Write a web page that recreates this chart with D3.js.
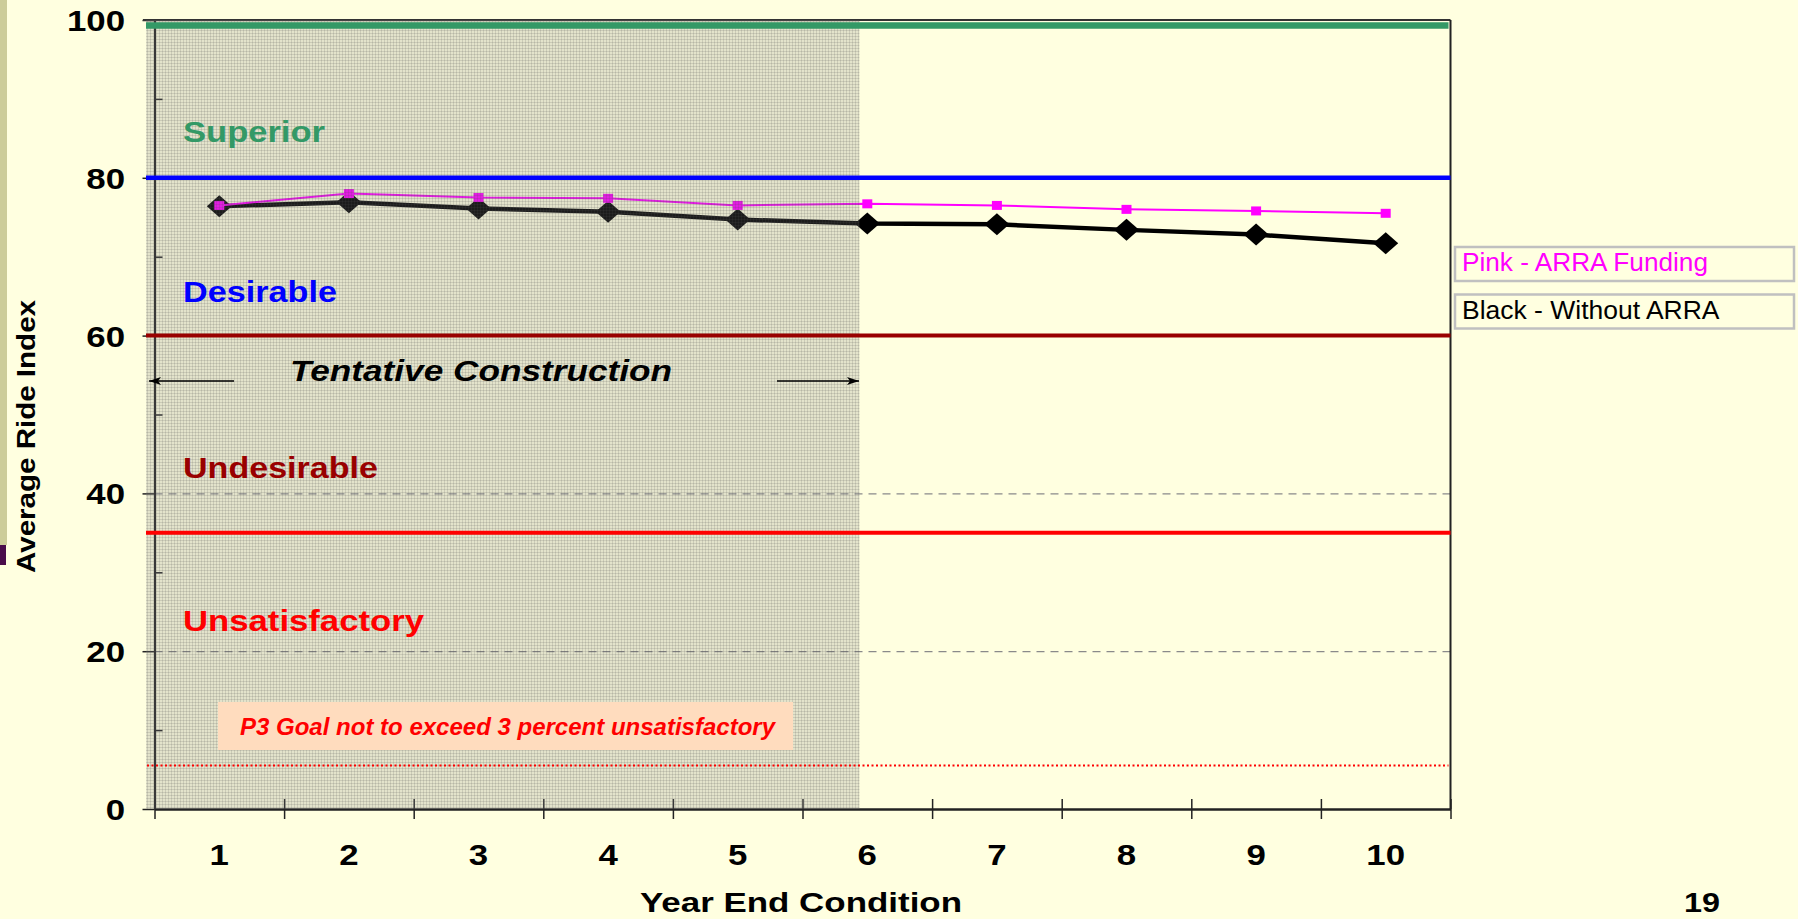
<!DOCTYPE html>
<html>
<head>
<meta charset="utf-8">
<script src="https://cdn.jsdelivr.net/npm/d3@7"></script>
<style>
  body { margin: 0; background: #ffffe0; }
  svg { display: block; font-family: "Liberation Sans", Arial, sans-serif; }
</style>
</head>
<body>
<div id="chart"></div>
<script>
// data
const years = [1, 2, 3, 4, 5, 6, 7, 8, 9, 10];
const withoutArra = [76.4, 76.9, 76.1, 75.7, 74.7, 74.2, 74.1, 73.4, 72.8, 71.7];
const withArra = [76.5, 78.0, 77.5, 77.4, 76.5, 76.7, 76.5, 76.0, 75.8, 75.5];
const yTicks = [0, 20, 40, 60, 80, 100];
const yMinorTicks = [10, 30, 50, 70, 90];
const zoneNames = ["Superior", "Desirable", "Undesirable", "Unsatisfactory"];
const zoneLimits = [99.3, 80, 60, 35];
const goalLevel = 5.5;
const legendLabels = ["Pink - ARRA Funding", "Black - Without ARRA"];

const width = 1798;
const height = 919;
const margin = { top: 20, right: 347.5, bottom: 110, left: 154.5 };
const zoneColors = ["#339966", "#0000ff", "#990000", "#ff0000"];
const zoneWidths = [6.5, 4.5, 4, 4];

const svg = d3.select("#chart")
    .append("svg")
    .attr("width", width)
    .attr("height", height);

const defs = svg.append("defs");
const hatch = defs.append("pattern")
    .attr("id", "hatch")
    .attr("width", 3)
    .attr("height", 3)
    .attr("patternUnits", "userSpaceOnUse");
hatch.append("rect").attr("width", 3).attr("height", 3)
    .attr("fill", "rgb(128,128,128)").attr("fill-opacity", 0.22);
hatch.append("rect").attr("width", 3).attr("height", 1)
    .attr("fill", "rgb(80,80,80)").attr("fill-opacity", 0.16);
hatch.append("rect").attr("width", 1).attr("height", 3)
    .attr("fill", "rgb(80,80,80)").attr("fill-opacity", 0.16);

defs.append("marker")
    .attr("id", "arrow")
    .attr("viewBox", "0 0 12 8")
    .attr("refX", 12).attr("refY", 4)
    .attr("markerWidth", 12).attr("markerHeight", 8)
    .attr("markerUnits", "userSpaceOnUse")
    .attr("orient", "auto")
    .append("path")
    .attr("d", "M0,0 L12,4 L0,8 L3,4 Z")
    .attr("fill", "#000");

// slide decoration on the left edge
svg.append("rect").attr("x", 0).attr("y", 0).attr("width", 7).attr("height", 545).attr("fill", "#cccc99");
svg.append("rect").attr("x", 0).attr("y", 545).attr("width", 6).attr("height", 20).attr("fill", "#4a0c4a");

const x = d3.scaleLinear()
    .domain([0, 10])
    .range([margin.left, width - margin.right]);

const xBand = d3.scaleBand()
    .domain(years)
    .range([margin.left, width - margin.right]);

const y = d3.scaleLinear()
    .domain([0, 100])
    .range([809, 20]);

const cx = d => xBand(d) + xBand.bandwidth() / 2;

// dashed gridlines
svg.append("g")
    .attr("transform", `translate(${margin.left},0)`)
    .call(d3.axisLeft(y).tickValues(yTicks.filter(v => v > 0 && v < 100))
        .tickSize(-(x(10) - x(0))).tickFormat(""))
    .call(g => g.select(".domain").remove())
    .selectAll("line")
    .attr("stroke", "#8a8a8a")
    .attr("stroke-width", 1.3)
    .attr("stroke-dasharray", "8,6");

// y axis
const yAxis = svg.append("g")
    .attr("transform", `translate(${margin.left},0)`)
    .call(d3.axisLeft(y).tickValues(yTicks).tickSize(12).tickSizeOuter(0).tickPadding(0));
yAxis.select(".domain").attr("stroke", "#222").attr("stroke-width", 2);
yAxis.selectAll("line").attr("stroke", "#222").attr("stroke-width", 1.5);
yAxis.selectAll("text")
    .attr("x", -29.5 / 1.2)
    .attr("dy", "0.36em")
    .attr("transform", "scale(1.2,1)")
    .attr("text-anchor", "end")
    .style("font-size", "29px")
    .style("font-weight", "bold")
    .style("fill", "#000");

svg.append("g")
    .attr("transform", `translate(${margin.left},0)`)
    .call(d3.axisLeft(y).tickValues(yMinorTicks).tickSize(-8).tickFormat(""))
    .call(g => g.select(".domain").remove())
    .selectAll("line").attr("stroke", "#222").attr("stroke-width", 1.5);

// x axis ticks (crossing)
const xAxis = svg.append("g")
    .attr("transform", `translate(0,${y(0)})`)
    .call(d3.axisBottom(x).tickValues(d3.range(0, 11)).tickSize(10).tickSizeOuter(0).tickFormat(""));
xAxis.select(".domain").attr("stroke", "#222").attr("stroke-width", 2.5);
xAxis.selectAll("line").attr("y1", -10).attr("stroke", "#222").attr("stroke-width", 1.5);

// x labels
const xLabels = svg.append("g")
    .attr("transform", `translate(0,${y(0)})`)
    .call(d3.axisBottom(xBand).tickSize(0));
xLabels.select(".domain").remove();
xLabels.selectAll("text")
    .attr("y", 56)
    .attr("dy", null)
    .attr("transform", "scale(1.2,1)")
    .attr("x", 0)
    .style("font-size", "29px")
    .style("font-weight", "bold")
    .style("fill", "#000");
xLabels.selectAll(".tick").each(function (d) {
    d3.select(this).attr("transform", `translate(${cx(d)},0)`);
});

// frame: top and right
svg.append("line")
    .attr("x1", 143).attr("x2", x(10))
    .attr("y1", y(100)).attr("y2", y(100))
    .attr("stroke", "#333").attr("stroke-width", 2);
svg.append("line")
    .attr("x1", x(10)).attr("x2", x(10))
    .attr("y1", y(100)).attr("y2", y(0))
    .attr("stroke", "#222").attr("stroke-width", 2);

// series
const blackData = years.map((d, i) => ({ year: d, value: withoutArra[i] }));
const pinkData = years.map((d, i) => ({ year: d, value: withArra[i] }));

const line = d3.line().x(d => cx(d.year)).y(d => y(d.value));

svg.append("path")
    .datum(blackData)
    .attr("d", line)
    .attr("fill", "none")
    .attr("stroke", "#000")
    .attr("stroke-width", 4.5);

svg.selectAll("path.diamond")
    .data(blackData)
    .join("path")
    .attr("class", "diamond")
    .attr("d", "M0,-11 L12.5,0 L0,11 L-12.5,0 Z")
    .attr("transform", d => `translate(${cx(d.year)},${y(d.value)})`)
    .attr("fill", "#000");

svg.append("path")
    .datum(pinkData)
    .attr("d", line)
    .attr("fill", "none")
    .attr("stroke", "#ff00ff")
    .attr("stroke-width", 2);

svg.selectAll("rect.sq")
    .data(pinkData)
    .join("rect")
    .attr("class", "sq")
    .attr("x", d => cx(d.year) - 5)
    .attr("y", d => y(d.value) - 4.5)
    .attr("width", 10)
    .attr("height", 9)
    .attr("fill", "#ff00ff");

// tentative construction shading (over the series)
svg.append("rect")
    .attr("x", 146)
    .attr("y", y(100))
    .attr("width", 859.5 - 146)
    .attr("height", y(0) - y(100))
    .attr("fill", "url(#hatch)");

// zone limit lines
svg.selectAll("line.zone")
    .data(zoneLimits)
    .join("line")
    .attr("class", "zone")
    .attr("x1", 146)
    .attr("x2", (d, i) => i === 0 ? x(10) - 2 : x(10))
    .attr("y1", d => y(d))
    .attr("y2", d => y(d))
    .attr("stroke", (d, i) => zoneColors[i])
    .attr("stroke-width", (d, i) => zoneWidths[i]);

svg.append("line")
    .attr("x1", 147).attr("x2", x(10) - 2)
    .attr("y1", y(goalLevel)).attr("y2", y(goalLevel))
    .attr("stroke", "#ff0000")
    .attr("stroke-width", 2)
    .attr("stroke-dasharray", "2,2.5");

// zone names
const zoneLabelY = [84.5, 64.3, 42.0, 22.6];
const zoneLabelW = [142, 154, 195, 241];
svg.selectAll("text.zone")
    .data(zoneNames)
    .join("text")
    .attr("class", "zone")
    .attr("x", 183)
    .attr("y", (d, i) => y(zoneLabelY[i]))
    .attr("textLength", (d, i) => zoneLabelW[i])
    .attr("lengthAdjust", "spacingAndGlyphs")
    .style("font-size", "30px")
    .style("font-weight", "bold")
    .style("fill", (d, i) => zoneColors[i])
    .text(d => d);

// tentative construction note and arrows
svg.append("text")
    .attr("x", 290)
    .attr("y", 381)
    .attr("textLength", 382)
    .attr("lengthAdjust", "spacingAndGlyphs")
    .style("font-size", "29px")
    .style("font-weight", "bold")
    .style("font-style", "italic")
    .style("fill", "#000")
    .text("Tentative Construction");

svg.append("line")
    .attr("x1", 234).attr("x2", 149).attr("y1", 381).attr("y2", 381)
    .attr("stroke", "#000").attr("stroke-width", 1.6)
    .attr("marker-end", "url(#arrow)");
svg.append("line")
    .attr("x1", 777).attr("x2", 859).attr("y1", 381).attr("y2", 381)
    .attr("stroke", "#000").attr("stroke-width", 1.6)
    .attr("marker-end", "url(#arrow)");

// P3 goal box
svg.append("rect")
    .attr("x", 218).attr("y", 702)
    .attr("width", 575).attr("height", 48)
    .attr("fill", "#ffdcbe");
svg.append("text")
    .attr("x", 240)
    .attr("y", 735)
    .attr("textLength", 535)
    .attr("lengthAdjust", "spacingAndGlyphs")
    .style("font-size", "24px")
    .style("font-weight", "bold")
    .style("font-style", "italic")
    .style("fill", "#ff0000")
    .text("P3 Goal not to exceed 3 percent unsatisfactory");

// axis titles
svg.append("text")
    .attr("transform", "translate(35,436.5) rotate(-90)")
    .attr("text-anchor", "middle")
    .attr("textLength", 273)
    .attr("lengthAdjust", "spacingAndGlyphs")
    .style("font-size", "26px")
    .style("font-weight", "bold")
    .style("fill", "#000")
    .text("Average Ride Index");

svg.append("text")
    .attr("x", 640)
    .attr("y", 912)
    .attr("textLength", 322)
    .attr("lengthAdjust", "spacingAndGlyphs")
    .style("font-size", "28px")
    .style("font-weight", "bold")
    .style("fill", "#000")
    .text("Year End Condition");

svg.append("text")
    .attr("x", 1684)
    .attr("y", 912)
    .attr("textLength", 36)
    .attr("lengthAdjust", "spacingAndGlyphs")
    .style("font-size", "28px")
    .style("font-weight", "bold")
    .style("fill", "#000")
    .text("19");

// legend boxes
const legendColors = ["#ff00ff", "#000000"];
const legendTop = [247, 294.5];
const legendTextW = [246, 257.5];
const legend = svg.append("g");
legend.selectAll("rect")
    .data(legendLabels)
    .join("rect")
    .attr("x", 1455)
    .attr("y", (d, i) => legendTop[i])
    .attr("width", 339)
    .attr("height", 34)
    .attr("fill", "#ffffe0")
    .attr("stroke", "#c0c0c0")
    .attr("stroke-width", 2.5);
legend.selectAll("text")
    .data(legendLabels)
    .join("text")
    .attr("x", 1462)
    .attr("y", (d, i) => legendTop[i] + 24)
    .attr("textLength", (d, i) => legendTextW[i])
    .attr("lengthAdjust", "spacingAndGlyphs")
    .style("font-size", "25px")
    .style("fill", (d, i) => legendColors[i])
    .text(d => d);
</script>
</body>
</html>
